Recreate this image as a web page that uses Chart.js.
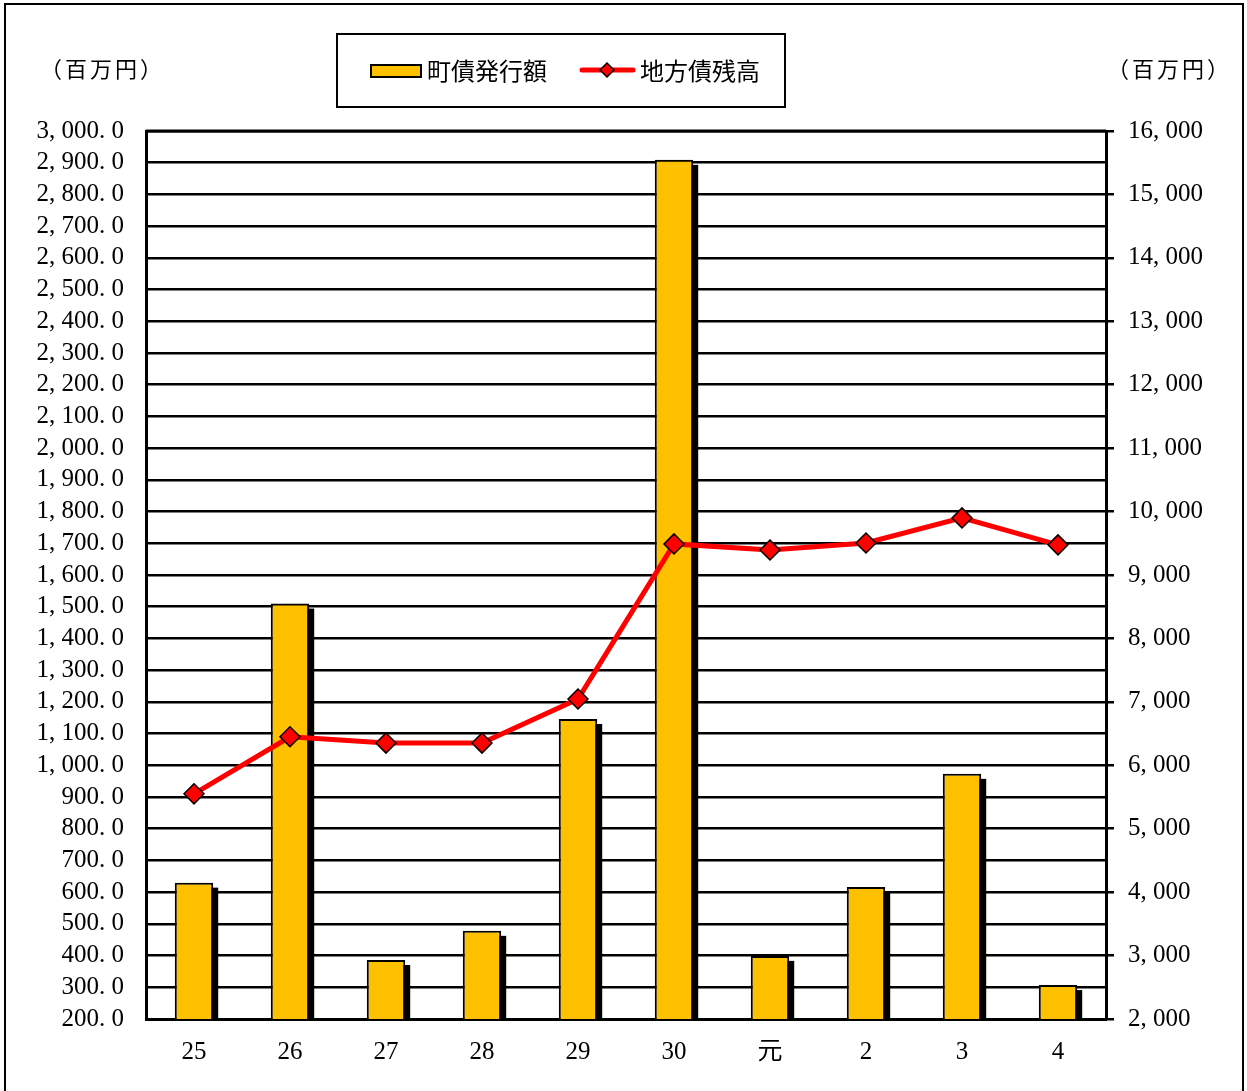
<!DOCTYPE html>
<html>
<head>
<meta charset="utf-8">
<script src="https://cdn.jsdelivr.net/npm/chart.js@4"></script>
<style>
  body { margin: 0; background: #fff; }
  #wrap { width: 1247px; height: 1091px; position: relative; }
</style>
</head>
<body>
<div id="wrap"><canvas id="chart1"></canvas></div>
<script>
// 年度 (平成25〜令和4)
var years = ["25", "26", "27", "28", "29", "30", "元", "2", "3", "4"];
// 町債発行額 (百万円)
var issued = [630, 1510, 386, 478, 1146, 2909, 399, 616, 973, 307];
// 地方債残高 (百万円)
var balance = [5550, 6450, 6350, 6350, 7045, 9490, 9395, 9505, 9900, 9475];

var leftTicks = { min: 200, max: 3000, step: 100 };
var rightTicks = { min: 2000, max: 16000, step: 1000 };

var numFont = "'Liberation Serif', 'Noto Sans CJK JP', serif";
var jpFont = "'Noto Sans CJK JP', sans-serif";

function fmtLeft(v) {
  return v.toLocaleString('en-US', { minimumFractionDigits: 1, maximumFractionDigits: 1 })
    .replace(',', ', ').replace('.', '. ');
}
function fmtRight(v) {
  return v.toLocaleString('en-US').replace(',', ', ');
}

// bar shadow, frame, legend and unit labels
var decor = {
  id: 'decor',
  beforeDatasetDraw: function (chart, args) {
    if (args.index !== 0) return;
    var ctx = chart.ctx, a = chart.chartArea;
    ctx.save();
    ctx.beginPath();
    ctx.rect(a.left, a.top, a.right - a.left, a.bottom - a.top);
    ctx.clip();
    ctx.fillStyle = '#000';
    args.meta.data.forEach(function (el) {
      var p = el.getProps(['x', 'y', 'base', 'width'], true);
      ctx.fillRect(p.x - p.width / 2 + 5, p.y + 5, p.width, p.base - p.y);
    });
    ctx.restore();
  },
  afterDraw: function (chart) {
    var ctx = chart.ctx, a = chart.chartArea;
    var ds = chart.data.datasets;
    ctx.save();
    // outer frame
    ctx.strokeStyle = '#000';
    ctx.lineWidth = 2;
    ctx.strokeRect(5, 4, 1238, 1100);
    // top edge of plot
    ctx.lineWidth = 3;
    ctx.beginPath();
    ctx.moveTo(a.left, a.top);
    ctx.lineTo(a.right, a.top);
    ctx.stroke();

    // unit labels
    ctx.fillStyle = '#000';
    ctx.font = '22px ' + jpFont;
    ctx.textBaseline = 'middle';
    ctx.textAlign = 'left';
    ctx.letterSpacing = '3px';
    ctx.fillText('（百万円）', 40, 69);
    ctx.fillText('（百万円）', 1107, 69);
    ctx.letterSpacing = '0px';

    // legend
    ctx.lineWidth = 2;
    ctx.strokeRect(337, 34, 448, 73);
    ctx.fillStyle = ds[0].backgroundColor;
    ctx.fillRect(371, 65, 50, 12);
    ctx.strokeRect(371, 65, 50, 12);
    ctx.fillStyle = '#000';
    ctx.font = '24px ' + jpFont;
    ctx.fillText(ds[0].label, 427, 71);

    ctx.strokeStyle = ds[1].borderColor;
    ctx.lineWidth = 5;
    ctx.lineCap = 'round';
    ctx.beginPath();
    ctx.moveTo(582, 70);
    ctx.lineTo(633, 70);
    ctx.stroke();
    ctx.beginPath();
    ctx.moveTo(607, 63); ctx.lineTo(614, 70); ctx.lineTo(607, 77); ctx.lineTo(600, 70);
    ctx.closePath();
    ctx.fillStyle = ds[1].pointBackgroundColor;
    ctx.fill();
    ctx.strokeStyle = '#000';
    ctx.lineWidth = 1.5;
    ctx.stroke();
    ctx.fillStyle = '#000';
    ctx.fillText(ds[1].label, 640, 71);
    ctx.restore();
  }
};

var ctx = document.getElementById('chart1').getContext('2d');
var chart = new Chart(ctx, {
  type: 'bar',
  data: {
    labels: years,
    datasets: [{
      type: 'bar',
      label: '町債発行額',
      data: issued,
      yAxisID: 'y',
      backgroundColor: '#FFC000',
      borderColor: '#000',
      borderWidth: 2,
      borderSkipped: false,
      categoryPercentage: 1.0,
      barPercentage: 0.4,
      order: 2
    }, {
      type: 'line',
      label: '地方債残高',
      data: balance,
      yAxisID: 'y1',
      borderColor: '#FF0000',
      borderWidth: 5,
      tension: 0,
      pointStyle: 'rectRot',
      pointRadius: 10,
      pointHoverRadius: 10,
      pointBackgroundColor: '#FF0000',
      pointBorderColor: '#000',
      pointBorderWidth: 1.5,
      order: 1
    }]
  },
  options: {
    responsive: true,
    maintainAspectRatio: false,
    animation: false,
    layout: { padding: { top: 131, left: 0, right: 0, bottom: 0 } },
    plugins: {
      legend: { display: false },
      tooltip: { enabled: false }
    },
    scales: {
      x: {
        grid: { display: false, drawTicks: false },
        border: { display: true, color: '#000', width: 3 },
        ticks: { color: '#000', padding: 18, font: { family: numFont, size: 25 } },
        afterFit: function (s) { s.height = 72; }
      },
      y: {
        position: 'left',
        min: leftTicks.min,
        max: leftTicks.max,
        grid: { color: '#000', lineWidth: 2.5, drawTicks: false },
        border: { color: '#000', width: 3 },
        ticks: {
          stepSize: leftTicks.step,
          autoSkip: false,
          color: '#000',
          padding: 22,
          font: { family: numFont, size: 25 },
          callback: function (v) { return fmtLeft(v); }
        },
        afterFit: function (s) { s.width = 146; }
      },
      y1: {
        position: 'right',
        min: rightTicks.min,
        max: rightTicks.max,
        grid: { drawOnChartArea: false, color: '#000', lineWidth: 2.5, drawTicks: true, tickLength: 8 },
        border: { color: '#000', width: 3 },
        ticks: {
          stepSize: rightTicks.step,
          autoSkip: false,
          color: '#000',
          padding: 14,
          font: { family: numFont, size: 25 },
          callback: function (v) { return fmtRight(v); }
        },
        afterFit: function (s) { s.width = 141; }
      }
    }
  },
  plugins: [decor]
});
</script>
</body>
</html>
